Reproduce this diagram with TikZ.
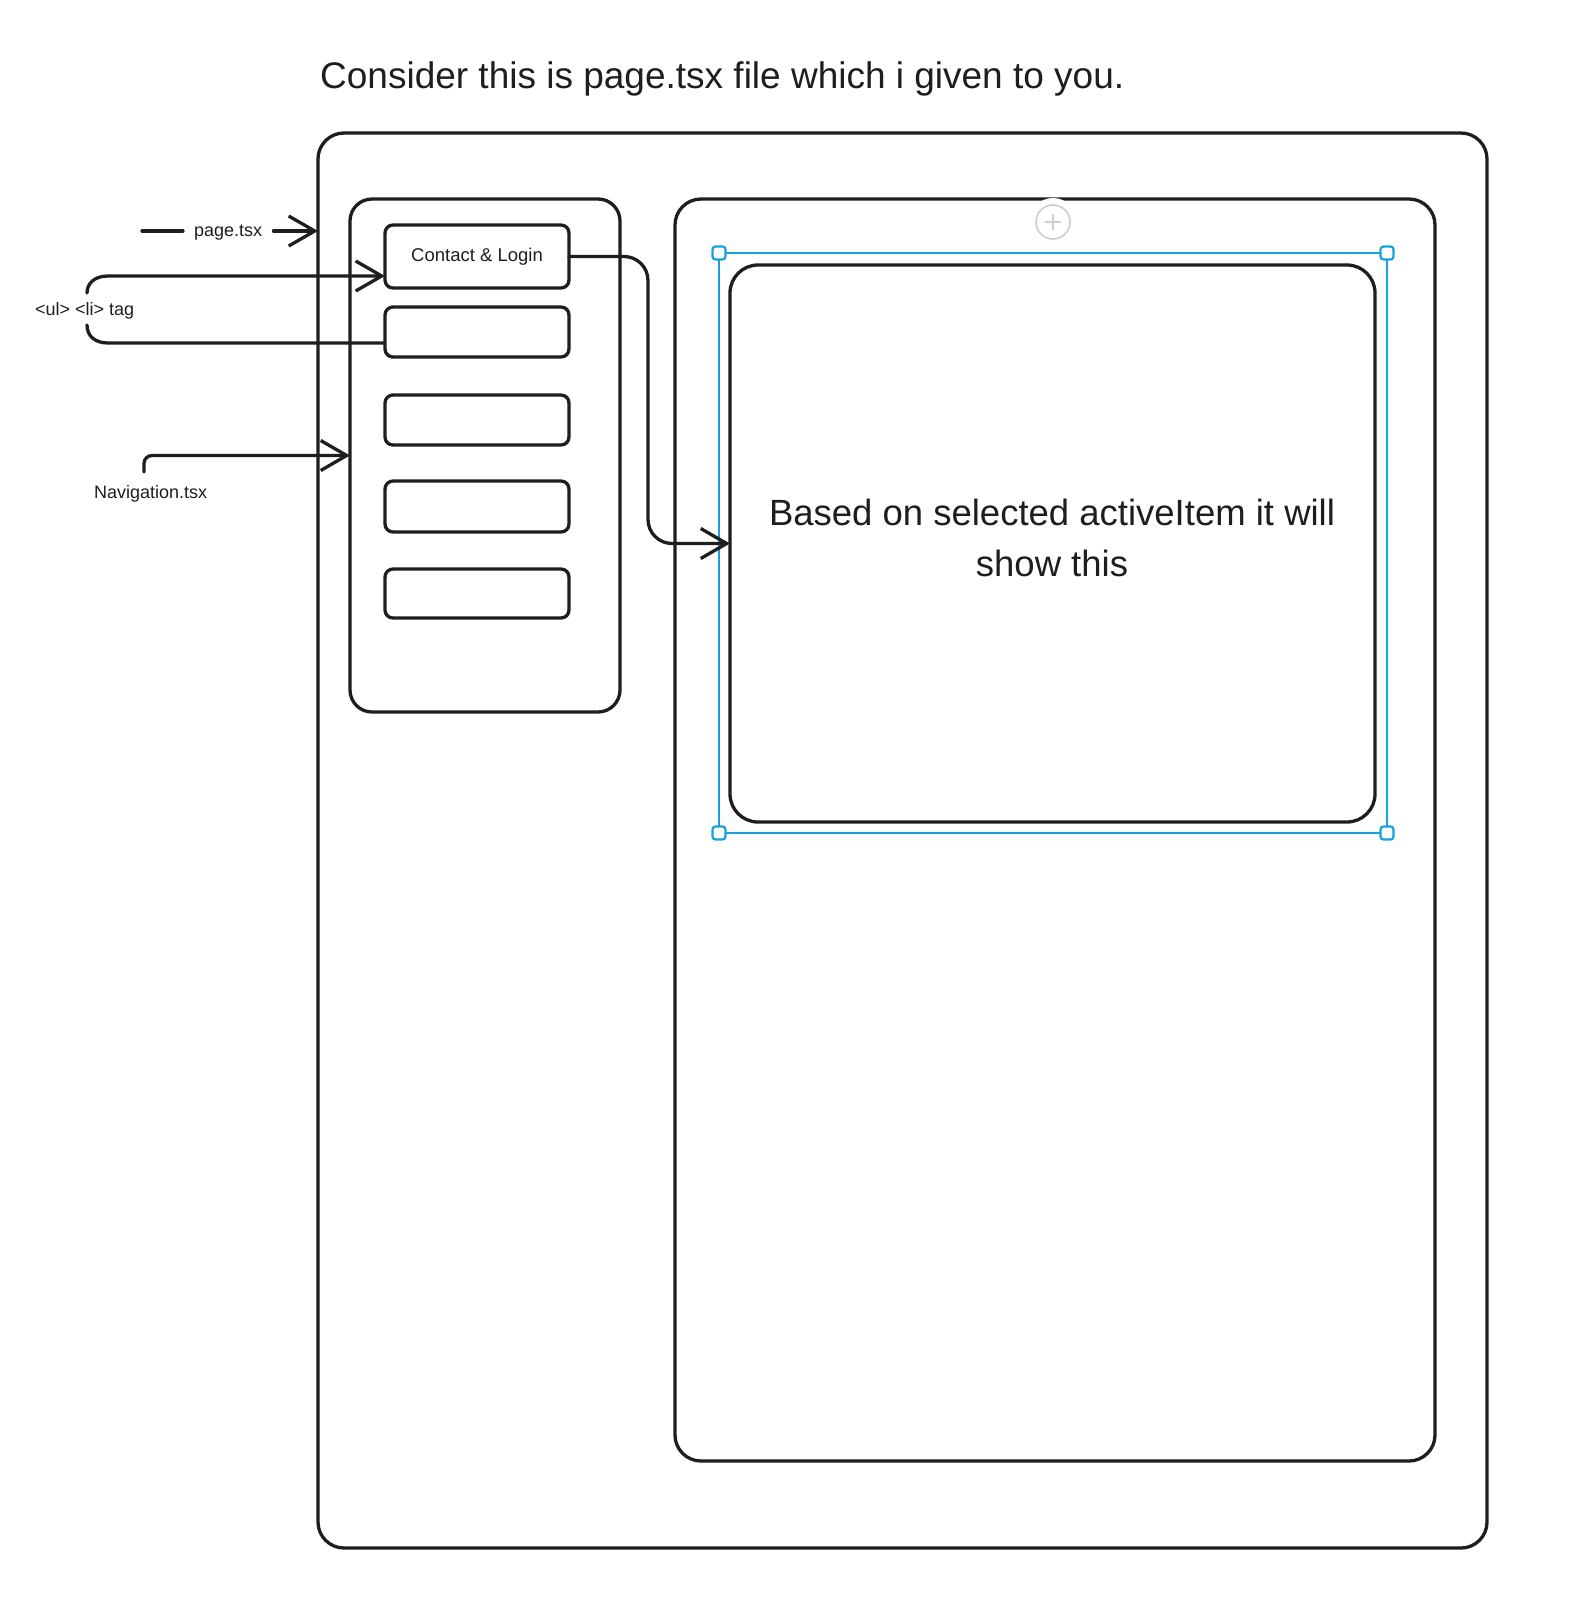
\documentclass[tikz,border=0pt]{standalone}
\usepackage{fontspec}
\setmainfont{Liberation Sans}
\usetikzlibrary{arrows.meta}
\definecolor{ink}{RGB}{30,30,30}
\definecolor{selblue}{RGB}{22,160,222}
\definecolor{btngray}{RGB}{205,205,205}
\begin{document}
\begin{tikzpicture}[x=1pt,y=-1pt,
  sketch/.style={draw=ink, line width=3.3pt, line cap=round, line join=round},
  frame/.style={sketch, rectangle, rounded corners=#1, inner sep=0pt, outer sep=0pt},
  frame/.default=24pt,
  item/.style={frame=8pt, minimum width=184pt, text=ink,
    font=\fontsize{18.5}{22}\selectfont},
  label/.style={anchor=base west, inner sep=0pt, text=ink,
    font=\fontsize{18}{22}\selectfont},
  barb/.style={-{Straight Barb[length=26pt,width=30pt]}},
  handle/.style={draw=selblue, fill=white, line width=2.2pt, rectangle,
    rounded corners=3pt, minimum size=13pt, inner sep=0pt}
]
% canvas
\fill[white] (0,0) rectangle (1594,1600);
\useasboundingbox (0,0) rectangle (1594,1600);

% heading
\node[anchor=base west, inner sep=0pt, text=ink,
  font=\fontsize{37}{44}\selectfont] (title) at (320,89)
  {Consider this is page.tsx file which i given to you.};

% page frame and the two columns
\node[frame=26pt, minimum width=1169pt, minimum height=1415pt] (outer) at (902.5,840.5) {};
\node[frame=22pt, minimum width=270pt, minimum height=513pt] (nav) at (485,455.5) {};
\node[frame=26pt, minimum width=760pt, minimum height=1262pt] (panel) at (1055,830) {};

% navigation list items
\node[item, minimum height=63pt] (item1) at (477,256.5) {Contact \& Login};
\node[item, minimum height=50pt] (item2) at (477,332) {};
\node[item, minimum height=50pt] (item3) at (477,420) {};
\node[item, minimum height=51pt] (item4) at (477,506.5) {};
\node[item, minimum height=49pt] (item5) at (477,593.5) {};

% content area (base anchor sits on the last line)
\node[frame=28pt, minimum width=645pt, minimum height=557pt] (content) at (1052.5,543.5) {};
\node[anchor=base, align=center, text=ink,
  font=\fontsize{36.5}{51}\selectfont] (showtxt) at (1052,576)
  {Based on selected activeItem it will\\show this};

% selection outline with its handles
\node[draw=selblue, line width=2.8pt, rectangle, minimum width=668pt,
  minimum height=580pt, inner sep=0pt, outer sep=0pt] (sel) at (1053,543) {};
\foreach \c/\n in {north west/hnw, north east/hne, south west/hsw, south east/hse}
  \node[handle] (\n) at (sel.\c) {};

% add button on the panel's top edge
\fill[white] (1053,222) circle (24pt);
\node[circle, draw=btngray, line width=1.6pt, minimum size=34pt, inner sep=0pt] (addbtn) at (1053,222) {};
\draw[btngray, line width=1.6pt] ([xshift=-8pt]addbtn.center) -- ([xshift=8pt]addbtn.center);
\draw[btngray, line width=1.6pt] ([yshift=-8pt]addbtn.center) -- ([yshift=8pt]addbtn.center);

% page.tsx pointer
\node[label] (plabel) at (194,236) {page.tsx};
\coordinate (ptail) at (142,231);
\draw[sketch] (ptail) -- ([xshift=-11pt]plabel.west |- ptail);
\draw[sketch, barb] ([xshift=11pt]plabel.east |- ptail) -- (ptail -| outer.west);

% <ul> <li> bracket
\node[label] (ullabel) at (35,315) {<ul> <li> tag};
\coordinate (ulA) at (87,293);
\coordinate (ulTop) at (108,276);
\coordinate (ulB) at (87,325);
\coordinate (ulBot) at (108,343);
\draw[sketch, barb] (ulA) .. controls (87,283) and (95,276) .. (ulTop) -- (ulTop -| item1.west);
\draw[sketch] (ulB) .. controls (87,336) and (95,343) .. (ulBot) -- (ulBot -| item2.west);

% Navigation.tsx pointer
\node[label] (navlabel) at (94,498) {Navigation.tsx};
\coordinate (navtail) at (144,472);
\draw[sketch, barb, rounded corners=8pt] (navtail) |- (nav.west);

% item to content
\coordinate (drop) at (648,0);
\draw[sketch, barb, rounded corners=24pt] (item1.east) -| (drop |- content.west) -- (content.west);
\end{tikzpicture}
\end{document}
